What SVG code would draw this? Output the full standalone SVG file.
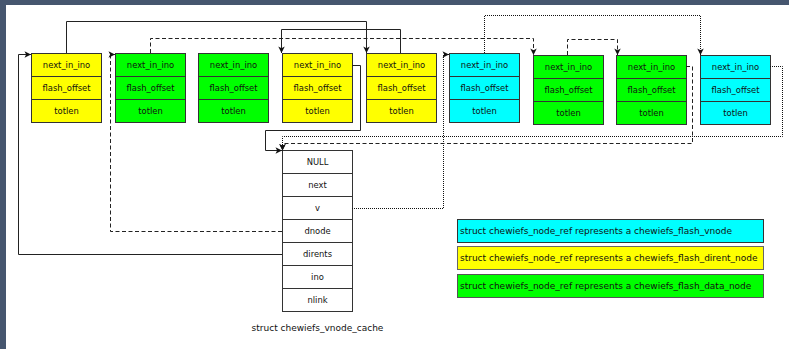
<svg xmlns="http://www.w3.org/2000/svg" width="789" height="349" viewBox="0 0 789 349">
<style>
.cell{stroke:#333;stroke-width:1}
.y{fill:#ffff00}.g{fill:#00ff00}.c{fill:#00ffff}.w{fill:#ffffff}
text{font-family:"DejaVu Sans",Verdana,sans-serif;font-size:8.4px;fill:#111}
.big{font-size:9px}
.t{text-anchor:middle}
.ln{fill:none;stroke:#222;stroke-width:1}
.da{stroke-dasharray:4,2.5}
.do{stroke-dasharray:1,1;stroke:#111}
</style>
<defs>
<marker id="ah" viewBox="0 0 10 10" refX="10" refY="5" markerWidth="7" markerHeight="6.5" markerUnits="userSpaceOnUse" orient="auto">
<path d="M0,0 L10,5 L0,10 L2.5,5 z" fill="#111"/>
</marker>
<g id="ref">
<rect class="cell" x="0" y="0" width="70" height="23"/>
<rect class="cell" x="0" y="23" width="70" height="23"/>
<rect class="cell" x="0" y="46" width="70" height="23"/>
<text class="t" x="35" y="14.5">next_in_ino</text>
<text class="t" x="35" y="37.5">flash_offset</text>
<text class="t" x="35" y="60.5">totlen</text>
</g>
</defs>
<rect x="0" y="0" width="789" height="349" fill="#ffffff"/>
<rect x="0" y="0" width="789" height="5" fill="#46566f"/>
<rect x="0" y="0" width="6" height="349" fill="#46566f"/>

<g id="node1" class="y"><use href="#ref" x="31.5" y="53.5"/></g>
<g id="node2" class="g"><use href="#ref" x="115.5" y="53.5"/></g>
<g id="node3" class="g"><use href="#ref" x="198.5" y="53.5"/></g>
<g id="node4" class="y"><use href="#ref" x="282.5" y="53.5"/></g>
<g id="node5" class="y"><use href="#ref" x="366.5" y="53.5"/></g>
<g id="node6" class="c"><use href="#ref" x="449.5" y="53.5"/></g>
<g id="node7" class="g"><use href="#ref" x="533.5" y="55.5"/></g>
<g id="node8" class="g"><use href="#ref" x="616.5" y="55.5"/></g>
<g id="node9" class="c"><use href="#ref" x="700.5" y="55.5"/></g>

<g id="vnode_cache">
<rect class="cell w" x="282.5" y="150.5" width="70" height="23"/>
<rect class="cell w" x="282.5" y="173.5" width="70" height="23"/>
<rect class="cell w" x="282.5" y="196.5" width="70" height="23"/>
<rect class="cell w" x="282.5" y="219.5" width="70" height="23"/>
<rect class="cell w" x="282.5" y="242.5" width="70" height="23"/>
<rect class="cell w" x="282.5" y="265.5" width="70" height="23"/>
<rect class="cell w" x="282.5" y="288.5" width="70" height="23"/>
<text class="t" x="317.5" y="165">NULL</text>
<text class="t" x="317.5" y="188">next</text>
<text class="t" x="317.5" y="211">v</text>
<text class="t" x="317.5" y="234">dnode</text>
<text class="t" x="317.5" y="257">dirents</text>
<text class="t" x="317.5" y="280">ino</text>
<text class="t" x="317.5" y="303">nlink</text>
<text class="t big" x="317.5" y="331">struct chewiefs_vnode_cache</text>
</g>

<g id="legend">
<rect class="cell c" x="457.5" y="219.5" width="306" height="23"/>
<text class="big" x="460" y="234">struct chewiefs_node_ref represents a chewiefs_flash_vnode</text>
<rect class="cell y" x="457.5" y="246.5" width="306" height="23" style="stroke:#666"/>
<text class="big" x="460" y="261">struct chewiefs_node_ref represents a chewiefs_flash_dirent_node</text>
<rect class="cell g" x="457.5" y="274.5" width="306" height="23" style="stroke:#555"/>
<text class="big" x="460" y="289">struct chewiefs_node_ref represents a chewiefs_flash_data_node</text>
</g>

<g id="connectors">
<path class="ln" d="M66.5,53 V21.5 H366.5 V53" marker-end="url(#ah)"/>
<path class="ln" d="M400.5,53 V29.5 H281.5 V53" marker-end="url(#ah)"/>
<path class="ln" d="M352,65.5 H360.5 V130.5 H265.5 V150.5 H282" marker-end="url(#ah)"/>
<path class="ln" d="M282,254.5 H18.5 V54.5 H31" marker-end="url(#ah)"/>
<path class="ln da" d="M282,231.5 H110.5 V54.5 H115" marker-end="url(#ah)"/>
<path class="ln da" d="M150.5,53 V38.5 H533.5 V55" marker-end="url(#ah)"/>
<path class="ln da" d="M567.5,55 V39.5 H617.5 V55" marker-end="url(#ah)"/>
<path class="ln da" d="M686,66.5 H692.5 V143.5 H282.5 V150.5" marker-end="url(#ah)"/>
<path class="ln do" d="M352,208.5 H443.5 V54.5 H449" marker-end="url(#ah)"/>
<path class="ln do" d="M484.5,53 V15.5 H700.5 V55" marker-end="url(#ah)"/>
<path class="ln do" d="M770,66.5 H782.5 V136.5 H282.5 V150.5" marker-end="url(#ah)"/>
</g>
</svg>
